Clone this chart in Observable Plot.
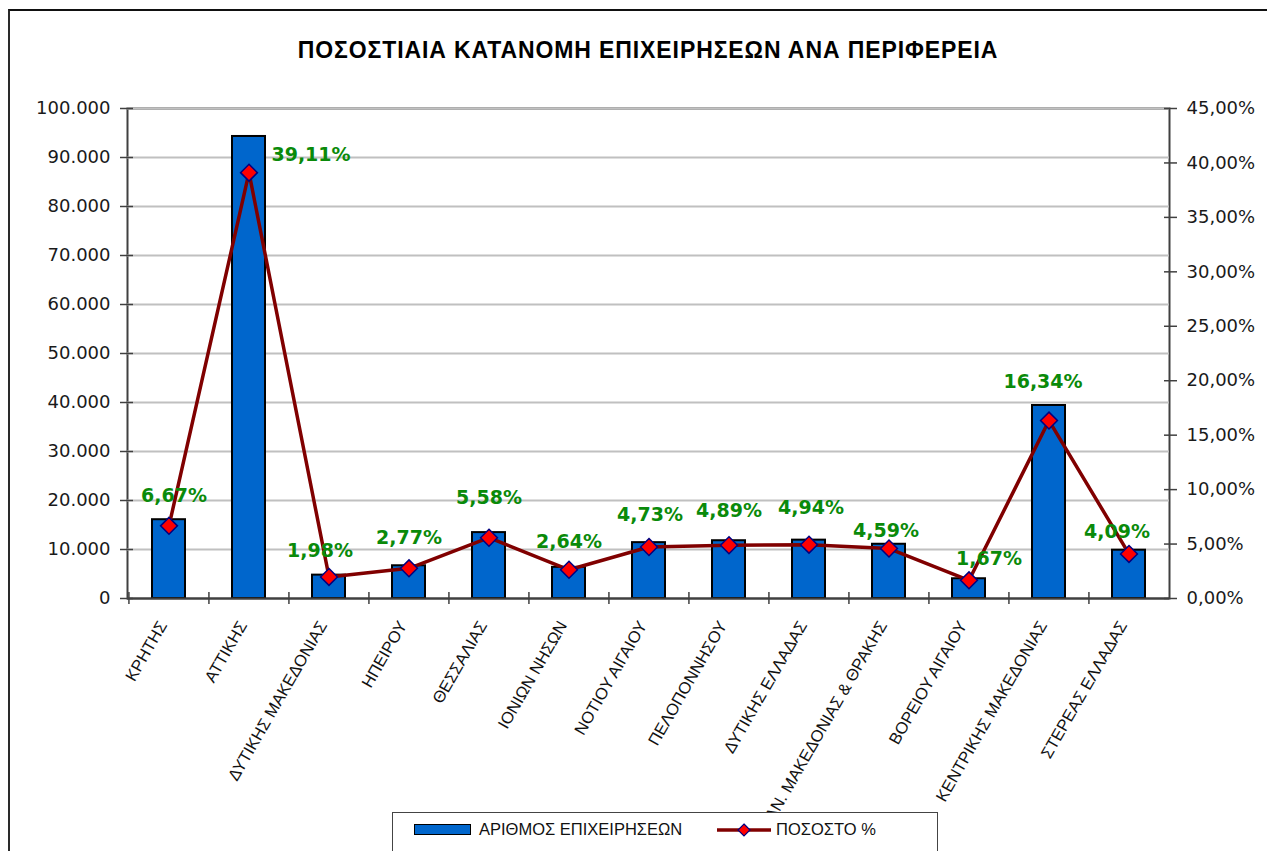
<!DOCTYPE html>
<html>
<head>
<meta charset="utf-8">
<script src="https://cdn.jsdelivr.net/npm/d3@7"></script>
<script src="https://cdn.jsdelivr.net/npm/@observablehq/plot@0.6"></script>
<style>
  html, body { margin: 0; padding: 0; background: #fff; overflow: hidden; }
  #wrap { position: relative; width: 1267px; height: 851px; overflow: hidden; background: #fff; }
  #border { position: absolute; left: 8px; top: 9px; width: 1400px; height: 1000px;
            border-left: 2px solid #2a2a2a; border-top: 2px solid #111; }
  #title { position: absolute; left: 0; top: 37px; width: 1296px; text-align: center;
           font: bold 23px "Liberation Sans", sans-serif; letter-spacing: 0.9px; color: #000; }
  #chart { position: absolute; left: 0; top: 0; }
  #legend { position: absolute; left: 392px; top: 812px; width: 544px; height: 60px;
            border: 1px solid #444; background: #fff; font: 16.5px "Liberation Sans", sans-serif; color: #111; }
  #legend .sw { position: absolute; left: 21px; top: 11px; width: 55px; height: 9px;
                background: #0066CC; border: 1.5px solid #000; }
  #legend .t1 { position: absolute; left: 86px; top: 7px; }
  #legend .ln { position: absolute; left: 323px; top: 7px; }
  #legend .t2 { position: absolute; left: 383px; top: 7px; }
</style>
</head>
<body>
<div id="wrap">
  <div id="border"></div>
  <div id="title"></div>
  <div id="chart"></div>
  <div id="legend"></div>
</div>
<script>
// ---- data ----
const regions = [
  "ΚΡΗΤΗΣ", "ΑΤΤΙΚΗΣ", "ΔΥΤΙΚΗΣ ΜΑΚΕΔΟΝΙΑΣ", "ΗΠΕΙΡΟΥ", "ΘΕΣΣΑΛΙΑΣ", "ΙΟΝΙΩΝ ΝΗΣΩΝ",
  "ΝΟΤΙΟΥ ΑΙΓΑΙΟΥ", "ΠΕΛΟΠΟΝΝΗΣΟΥ", "ΔΥΤΙΚΗΣ ΕΛΛΑΔΑΣ", "ΑΝ. ΜΑΚΕΔΟΝΙΑΣ & ΘΡΑΚΗΣ",
  "ΒΟΡΕΙΟΥ ΑΙΓΑΙΟΥ", "ΚΕΝΤΡΙΚΗΣ ΜΑΚΕΔΟΝΙΑΣ", "ΣΤΕΡΕΑΣ ΕΛΛΑΔΑΣ"
];
const businesses = [16080, 94290, 4770, 6680, 13450, 6360, 11400, 11790, 11910, 11070, 4030, 39390, 9860];
const percents = [6.67, 39.11, 1.98, 2.77, 5.58, 2.64, 4.73, 4.89, 4.94, 4.59, 1.67, 16.34, 4.09];
const leftTicks = [0, 10000, 20000, 30000, 40000, 50000, 60000, 70000, 80000, 90000, 100000];
const rightTicks = [0, 5, 10, 15, 20, 25, 30, 35, 40, 45];
const titleText = "ΠΟΣΟΣΤΙΑΙΑ ΚΑΤΑΝΟΜΗ ΕΠΙΧΕΙΡΗΣΕΩΝ ΑΝΑ ΠΕΡΙΦΕΡΕΙΑ";
const seriesBars = "ΑΡΙΘΜΟΣ ΕΠΙΧΕΙΡΗΣΕΩΝ";
const seriesLine = "ΠΟΣΟΣΤΟ %";

// ---- layout / style ----
const W = 1267, H = 851;
const mL = 127, mR = 98, mT = 108, mB = 253;
const yMax = 100000, pMax = 45;
const toY = p => p * yMax / pMax;          // map % onto the shared y scale (secondary axis)
const step = (W - mL - mR) / regions.length;
// label nudges (pixels) for data labels, as placed in the original
const labelNudge = {
  "ΚΡΗΤΗΣ": [5, -30], "ΑΤΤΙΚΗΣ": [62, -18], "ΔΥΤΙΚΗΣ ΜΑΚΕΔΟΝΙΑΣ": [-9, -26],
  "ΗΠΕΙΡΟΥ": [0, -30], "ΘΕΣΣΑΛΙΑΣ": [0, -40], "ΙΟΝΙΩΝ ΝΗΣΩΝ": [0, -28],
  "ΝΟΤΙΟΥ ΑΙΓΑΙΟΥ": [1, -32], "ΠΕΛΟΠΟΝΝΗΣΟΥ": [0, -34], "ΔΥΤΙΚΗΣ ΕΛΛΑΔΑΣ": [2, -37],
  "ΑΝ. ΜΑΚΕΔΟΝΙΑΣ & ΘΡΑΚΗΣ": [-3, -18], "ΒΟΡΕΙΟΥ ΑΙΓΑΙΟΥ": [20, -21],
  "ΚΕΝΤΡΙΚΗΣ ΜΑΚΕΔΟΝΙΑΣ": [-6, -39], "ΣΤΕΡΕΑΣ ΕΛΛΑΔΑΣ": [-12, -22]
};

const data = regions.map((r, i) => ({region: r, count: businesses[i], pct: percents[i]}));
const fmtCount = v => d3.format(",")(v).replace(/,/g, ".");
const fmtPct = v => v.toFixed(2).replace(".", ",") + "%";

const axisColor = "#404040";

const labelMarks = data.map(d => Plot.text([d], {
  x: "region", y: e => toY(e.pct), text: e => fmtPct(e.pct),
  fill: "#0a8a0a", fontWeight: "bold", fontSize: 19, fontFamily: "DejaVu Sans",
  dx: labelNudge[d.region][0], dy: labelNudge[d.region][1]
}));

const plot = Plot.plot({
  width: W, height: H,
  marginLeft: mL, marginRight: mR, marginTop: mT, marginBottom: mB,
  style: {fontFamily: "DejaVu Sans", color: "#1a1a1a", background: "transparent", overflow: "visible"},
  x: {domain: regions, paddingInner: 0.59, paddingOuter: 0.295, label: null},
  y: {domain: [0, yMax], label: null},
  marks: [
    Plot.frame({stroke: axisColor, strokeWidth: 2}),
    Plot.gridY(leftTicks.filter(v => v > 0), {stroke: "#c0c0c0", strokeOpacity: 1, strokeWidth: 2}),
    Plot.barY(data, {x: "region", y: "count", fill: "#0066CC", stroke: "#000", strokeWidth: 2}),
    Plot.ruleY([0], {stroke: axisColor, strokeWidth: 2}),
    // left axis (counts)
    Plot.axisY(leftTicks, {anchor: "left", tickSize: 7, tickPadding: 10, tickFormat: fmtCount,
      fontSize: 18, stroke: axisColor, strokeWidth: 1.5, fill: "#1a1a1a"}),
    Plot.axisY(leftTicks, {anchor: "left", tickSize: -6, tickFormat: () => "", stroke: axisColor, strokeWidth: 1.5}),
    // right axis (percent)
    Plot.axisY(rightTicks.map(toY), {anchor: "right", tickSize: 7, tickPadding: 10,
      tickFormat: v => fmtPct(v * pMax / yMax), fontSize: 18, stroke: axisColor, strokeWidth: 1.5, fill: "#1a1a1a"}),
    Plot.axisY(rightTicks.map(toY), {anchor: "right", tickSize: -6, tickFormat: () => "", stroke: axisColor, strokeWidth: 1.5}),
    // category boundary ticks
    Plot.axisX(regions, {anchor: "bottom", tickSize: 6, dx: -step / 2, tickFormat: () => "", stroke: axisColor, strokeWidth: 1.5}),
    Plot.axisX(regions, {anchor: "bottom", tickSize: -6, dx: -step / 2, tickFormat: () => "", stroke: axisColor, strokeWidth: 1.5}),
    // category labels
    Plot.axisX(regions, {anchor: "bottom", tickSize: 0, tickPadding: 24, dx: -6, tickRotate: -60,
      fontSize: 16.5, fontFamily: "Liberation Sans", fill: "#111"}),
    // percent line
    Plot.line(data, {x: "region", y: d => toY(d.pct), stroke: "#800000", strokeWidth: 3.5}),
    Plot.dot(data, {x: "region", y: d => toY(d.pct), symbol: "diamond2", r: 7.6,
      fill: "#FF0000", stroke: "#000080", strokeWidth: 1.5}),
    ...labelMarks
  ]
});
document.getElementById("chart").appendChild(plot);
document.getElementById("title").textContent = titleText;

const lg = document.getElementById("legend");
lg.innerHTML = `
  <div class="sw"></div>
  <div class="t1"></div>
  <svg class="ln" width="56" height="20">
    <line x1="1" y1="10" x2="55" y2="10" stroke="#800000" stroke-width="3.5"></line>
    <path d="M28,4 L34,10 L28,16 L22,10 Z" fill="#FF0000" stroke="#000080" stroke-width="1.2"></path>
  </svg>
  <div class="t2"></div>`;
lg.querySelector(".t1").textContent = seriesBars;
lg.querySelector(".t2").textContent = seriesLine;
</script>
</body>
</html>
